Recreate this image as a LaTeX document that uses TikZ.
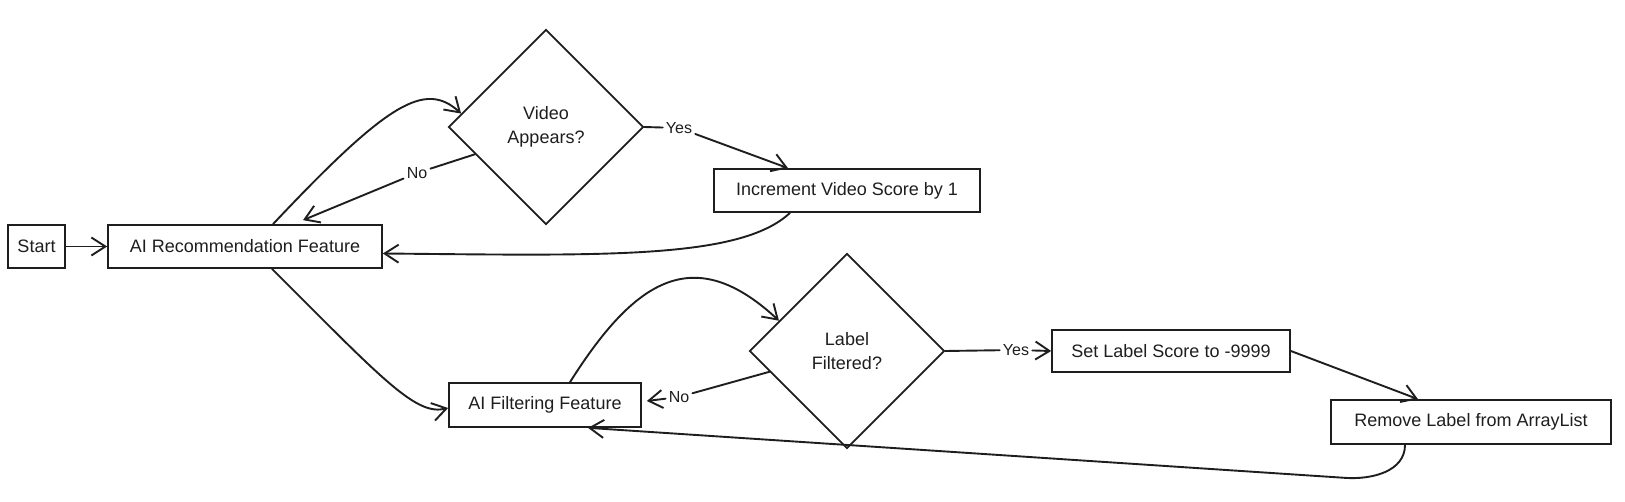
\documentclass[tikz,border=0pt]{standalone}
\usepackage{fontspec}
\setmainfont{Liberation Sans}
\usepackage{xcolor}
\usetikzlibrary{shapes.geometric,arrows.meta}
\definecolor{ink}{HTML}{1E1E1E}
\tikzset{
  proc/.style={ % image of a process step
    draw=ink, rectangle, line width=1.7pt,
    inner sep=0pt, text=ink, font=\fontsize{18}{24}\selectfont
  },
  decision/.style={ % image of a yes/no question
    draw=ink, diamond, aspect=1, line width=1.7pt,
    minimum width=195pt, minimum height=195pt, inner sep=0pt,
    align=center, text=ink, font=\fontsize{18}{24}\selectfont
  },
  flow/.style={ % a connector between steps
    draw=ink, line width=1.9pt, line cap=round, line join=round,
    -{Straight Barb[length=14pt,width=18pt]}
  },
  answer/.style={ % yes / no tag sitting on a connector
    text=ink, inner sep=3pt, font=\fontsize{16}{18}\selectfont
  }
}

\begin{document}
\begin{tikzpicture}[x=1pt, y=-1pt]
      \useasboundingbox (0,0) rectangle (1625,502);

      \node[proc, minimum width=57pt, minimum height=43pt] (start) at (36.5,246.5) {Start};
      \node[proc, minimum width=274pt, minimum height=43pt] (airec) at (245,246.5) {AI Recommendation Feature};
      \node[decision] (video) at (546,127) {Video\\Appears?};
      \node[proc, minimum width=266pt, minimum height=43pt] (incr) at (847,190.5) {Increment Video Score by 1};
      \node[proc, minimum width=192pt, minimum height=44pt] (aifilt) at (545,405) {AI Filtering Feature};
      \node[decision] (label) at (847,351) {Label\\Filtered?};
      \node[proc, minimum width=238pt, minimum height=42pt] (setscore) at (1171,351) {Set Label Score to -9999};
      \node[proc, minimum width=280pt, minimum height=44pt] (remove) at (1471,422) {Remove Label from ArrayList};
      \node[answer] (noA) at (417,173) {No};
      \node[answer] (yesA) at (679,128) {Yes};
      \node[answer] (noB) at (679,397) {No};
      \node[answer] (yesB) at (1016,350) {Yes};

      \draw[flow] (start) -- (airec);
      \draw[flow] ([xshift=28pt]airec.north) .. controls +(115,-122) and +(-36,-33) .. (video.171);
      \draw[flow] (video.201) -- (noA) -- ([xshift=58pt,yshift=4pt]airec.north);
      \draw[flow] (video.east) -- (yesA) -- ([xshift=-59pt]incr.north);
      \draw[flow] ([xshift=-57pt]incr.south) .. controls +(-50,47) and +(218,2) .. ([yshift=-7pt]airec.east);
      \draw[flow] ([xshift=27pt]airec.south) .. controls +(112,112) and +(-32,8) .. ([yshift=-3pt]aifilt.west);
      \draw[flow] ([xshift=25pt]aifilt.north) .. controls +(65,-103) and +(-85,-79) .. (label.156);
      \draw[flow] (label.195) -- (noB) -- ([xshift=5pt,yshift=4pt]aifilt.east);
      \draw[flow] (label.east) -- (yesB) -- (setscore.west);
      \draw[flow] (setscore.east) -- ([xshift=-53pt]remove.north);
      \draw[flow] ([xshift=-66pt]remove.south) to[out=-90,in=-4] ++(-60,33) -- ([xshift=43pt]aifilt.south);
    \end{tikzpicture}
\end{document}
